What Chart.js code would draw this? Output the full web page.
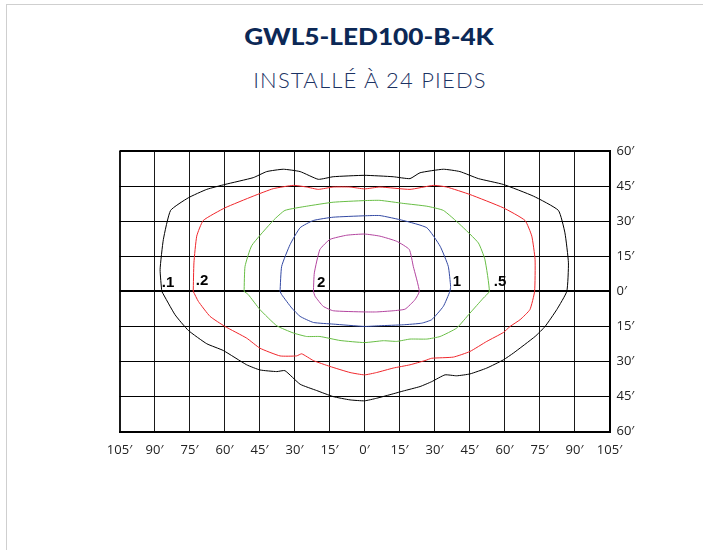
<!DOCTYPE html>
<html>
<head>
<meta charset="utf-8">
<script src="https://cdn.jsdelivr.net/npm/chart.js@4"></script>
<style>
  html, body { margin: 0; padding: 0; background: #fff; }
  #wrap { position: relative; width: 703px; height: 550px; overflow: hidden; }
  #frame { position: absolute; left: 6px; top: 4px; right: -10px; bottom: -10px;
           border-top: 1px solid #cfcfcf; border-left: 1px solid #cfcfcf; }
  .ttl { position: absolute; white-space: nowrap; }
  #t1 { left: 369px; top: 23px; font: 900 22px Lato, sans-serif; color: #0c2856;
        transform: translateX(-50%) scaleX(1.19); }
  #t2 { left: 370px; top: 66px; font: 300 22px Lato, sans-serif; color: #1b3263;
        letter-spacing: 1.2px; transform: translateX(-50%); }
  canvas { position: absolute; left: 0; top: 0; }
</style>
</head>
<body>
<div id="wrap">
  <div id="frame"></div>
  <div class="ttl" id="t1">GWL5-LED100-B-4K</div>
  <div class="ttl" id="t2">INSTALLÉ À 24 PIEDS</div>
  <canvas id="myChart" width="703" height="550"></canvas>
</div>
<script>
// isofootcandle contours, feet from the pole (x across, y along)
const fc01 = [[-86.9,0],[-87.6,9.3],[-86.2,22.2],[-83.1,34.6],[-75.5,40],[-67.6,43.6],[-59.8,45.7],[-47.7,48.6],[-41.9,51.2],[-34.8,52.2],[-27.6,51.2],[-19.8,47.9],[-13.4,49],[0,49.6],[12.3,49],[19.5,48.2],[23.8,50.7],[33.8,52.2],[40.9,51.2],[48.8,48.2],[59.5,45.7],[72.4,40.7],[83.1,34.6],[85.9,25],[87.4,12.2],[86.7,0],[82.4,-7.8],[77.4,-15],[73.1,-19.3],[63.8,-26.4],[59.5,-29.3],[52.4,-32.8],[45.2,-35.3],[39.5,-36.1],[34.5,-35.7],[28.8,-38.6],[23.8,-40.7],[16.6,-42.6],[12.3,-43.8],[5.2,-45.7],[0,-46.8],[-6.2,-46.4],[-13.4,-45],[-20.5,-42.4],[-27.6,-39.7],[-34.1,-33.9],[-37.6,-34.3],[-44.8,-33.6],[-50.5,-31.4],[-60.5,-25.3],[-67.6,-22.4],[-75.5,-16.7],[-81.2,-10],[-86.9,0]];
const fc02 = [[-73.4,0],[-73.1,12.2],[-71.9,23.6],[-69.1,30.3],[-59.8,35.7],[-47.7,40.7],[-39.1,43.9],[-30.5,45.3],[-24.8,44.6],[-19.8,43.6],[-13.4,44.6],[-6.2,44.6],[0,43.8],[6.6,44.6],[19.5,43.6],[29.5,45.3],[35.2,44.6],[45.2,41.4],[59.5,35.7],[68.8,30.3],[71.7,23.6],[73.1,13.6],[72.9,0],[70.9,-7.8],[66.7,-12.1],[62.4,-15],[59.5,-17.6],[52.4,-21.4],[45.2,-25.7],[38.1,-28.1],[28.8,-28.6],[25.9,-29.6],[19.5,-31.4],[12.3,-32.8],[5.2,-34.7],[0,-35.7],[-6.2,-34.7],[-14.8,-32.1],[-21.9,-29.6],[-26.9,-26.7],[-29.1,-27.6],[-36.2,-27.6],[-44.8,-24.3],[-50.5,-20],[-59.8,-15],[-66.2,-10.7],[-71.2,-4.3],[-73.4,0]];
const fc05 = [[-51.6,0],[-51.2,10.7],[-48.3,19.6],[-39.1,30.3],[-34.1,34.6],[-24.8,36.4],[-13.4,38.1],[0,38.8],[6.6,38.9],[16.6,37.6],[26.7,36.4],[33.8,34.6],[40.9,28.6],[48.8,20.7],[51.6,13.6],[53.5,0],[50.9,-2.9],[45.2,-9.3],[39.5,-15.7],[32.4,-19.3],[26.7,-20.4],[19.5,-20.4],[13.8,-21.4],[8.1,-21.1],[0,-21.9],[-10.5,-21],[-19.1,-19.3],[-24.8,-19.3],[-30.5,-17.8],[-37.6,-14.7],[-44.8,-7.8],[-49.8,-1.4],[-51.6,0]];
const fc1 = [[-36.2,0],[-35.5,10.7],[-31.9,20],[-27.6,27.2],[-21.9,30.3],[-13.4,31.7],[0,32.3],[6.6,32.4],[16.6,30.3],[26.7,27.2],[32.4,19.3],[35.9,10.7],[36.9,2.1],[36.6,0],[33.8,-6.4],[28.8,-12.1],[24.5,-13.6],[16.6,-14.3],[6.6,-14.7],[0,-15],[-13.4,-14],[-21.9,-13.3],[-27.6,-10.7],[-31.2,-7.1],[-35.5,-1.4],[-36.2,0]];
const fc2 = [[-21.9,0],[-21.5,7.9],[-19.1,17.9],[-14.8,22.2],[-7.6,24],[0,24.5],[6.6,23.6],[13.8,21.4],[19.2,17.9],[20.9,10.7],[23.5,0],[21.6,-3.6],[17.4,-7.6],[12.3,-8.3],[5.2,-8.8],[0,-8.8],[-13.4,-8.3],[-17.7,-6.4],[-21.2,-2.1],[-21.9,0]];

const labelText = ['.1', '.2', '2', '1', '.5'];
const labelX = [-84.2, -69.6, -18.6, 39.6, 58.1];
const labelY = [3.7, 4.6, 3.5, 3.9, 4.2];

const xTicks = [-105, -90, -75, -60, -45, -30, -15, 0, 15, 30, 45, 60, 75, 90, 105];
const yTicks = [-60, -45, -30, -15, 0, 15, 30, 45, 60];

function toPts(arr) {
  return arr.map(p => ({ x: p[0], y: p[1] }));
}

function contour(data, color) {
  return {
    data: toPts(data),
    showLine: true,
    borderColor: color,
    borderWidth: 1,
    pointRadius: 0,
    tension: 0.15,
    fill: false
  };
}

const contourLabels = {
  id: 'contourLabels',
  afterDatasetsDraw(chart) {
    const c = chart.ctx;
    const xs = chart.scales.x, ys = chart.scales.y;
    c.save();
    c.fillStyle = '#000';
    c.font = 'bold 15px "Liberation Sans", Arial, sans-serif';
    c.textAlign = 'center';
    c.textBaseline = 'middle';
    labelText.forEach((t, i) => {
      c.fillText(t, xs.getPixelForValue(labelX[i]), ys.getPixelForValue(labelY[i]));
    });
    c.restore();
  }
};

const ctx = document.getElementById('myChart').getContext('2d');

const myChart = new Chart(ctx, {
  type: 'scatter',
  data: {
    datasets: [
      contour(fc01, '#000000'),
      contour(fc02, '#f0262b'),
      contour(fc05, '#68be45'),
      contour(fc1, '#3349a3'),
      contour(fc2, '#b3449f'),
      { data: [{ x: 0, y: 0 }], pointRadius: 1.2, backgroundColor: '#000', borderWidth: 0 }
    ]
  },
  options: {
    responsive: false,
    animation: false,
    layout: {
      padding: { left: 119.5, top: 151, right: 53.5, bottom: 88.3 }
    },
    plugins: {
      legend: { display: false },
      tooltip: { enabled: false }
    },
    scales: {
      x: {
        type: 'linear',
        min: -105,
        max: 105,
        afterBuildTicks: s => { s.ticks = xTicks.map(v => ({ value: v })); },
        afterFit: s => { s.height = 30; },
        ticks: {
          callback: v => Math.abs(v) + '′',
          font: { family: '"Open Sans", sans-serif', size: 13 },
          color: '#222',
          padding: 11,
          maxRotation: 0,
          autoSkip: false
        },
        grid: {
          color: '#1a1a1a',
          lineWidth: c => (c.tick && Math.abs(c.tick.value) === 105 ? 2 : 1),
          drawTicks: false
        },
        border: { display: true, color: '#000', width: 2 }
      },
      y: {
        type: 'linear',
        position: 'right',
        min: -60,
        max: 60,
        afterBuildTicks: s => { s.ticks = yTicks.map(v => ({ value: v })); },
        afterFit: s => { s.width = 40; },
        ticks: {
          callback: v => Math.abs(v) + '′',
          font: { family: '"Open Sans", sans-serif', size: 13 },
          color: '#222',
          padding: 7,
          autoSkip: false
        },
        grid: {
          color: '#000',
          lineWidth: c => (c.tick && (c.tick.value === 0 || Math.abs(c.tick.value) === 60) ? 2 : 1),
          drawTicks: false
        },
        border: { display: true, color: '#000', width: 2 }
      }
    }
  },
  plugins: [contourLabels]
});
</script>
</body>
</html>
